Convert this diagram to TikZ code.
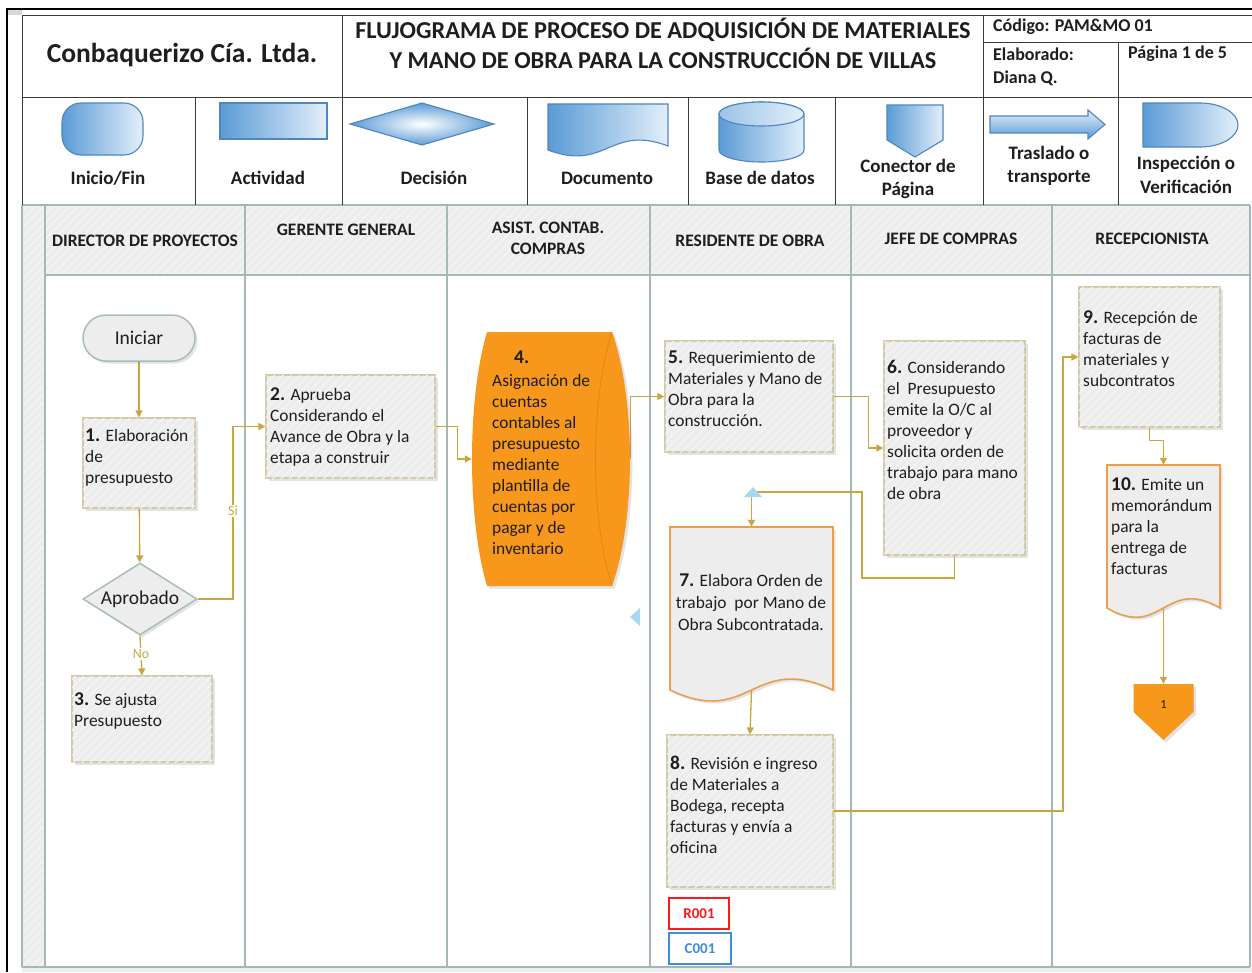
\documentclass[tikz,border=0pt]{standalone}
\usepackage{fontspec}
\setmainfont{Carlito}
\usetikzlibrary{shapes.geometric,shadows,patterns.meta,arrows.meta}
\pgfdeclarelayer{back}
\pgfdeclarelayer{conn}
\pgfsetlayers{back,conn,main}
\definecolor{gold}{HTML}{C8A73E}
\definecolor{boxb}{HTML}{D3CBA8}
\definecolor{boxf}{HTML}{EDEDED}
\definecolor{hatch}{HTML}{F6F6F6}
\definecolor{lane}{HTML}{A4B9B3}
\definecolor{orng}{HTML}{F7981D}
\definecolor{orngd}{HTML}{E0880F}
\definecolor{docb}{HTML}{E8A04E}
\definecolor{pillb}{HTML}{A7BEB7}
\definecolor{iconL}{HTML}{5B9BD5}
\definecolor{iconR}{HTML}{E3EFFA}
\definecolor{iconb}{HTML}{4F86C0}
\definecolor{tri}{HTML}{A9D6F0}
\definecolor{hdr}{HTML}{3A3A3A}
\definecolor{txtc}{HTML}{1E1E1E}
\definecolor{redc}{HTML}{FF1A1A}
\definecolor{bluec}{HTML}{3C8DDB}
\tikzset{
  hatched/.style={fill=boxf, postaction={pattern={Lines[angle=45,distance=6pt,line width=1pt]}, pattern color=hatch}},
  shade box/.style={drop shadow={shadow xshift=2.5pt,shadow yshift=-2.5pt,opacity=0.22}},
  stepbox/.style={rectangle, draw=boxb, line width=1.2pt, hatched, shade box, inner sep=0pt},
  docpath/.style={draw=docb, line width=1.6pt, fill=boxf, shade box},
  anchorbox/.style={rectangle, inner sep=0pt},
  flow/.style={draw=gold, line width=1.3pt, -{Triangle[length=7pt,width=7pt]}},
  steptext/.style={anchor=north west, align=left, inner sep=0pt, text=txtc, font=\fontsize{17.4}{21}\selectfont},
  icon/.style={draw=iconb, line width=1.1pt, left color=iconL, right color=iconR},
  lgd/.style={font=\fontsize{19}{23.5}\selectfont\bfseries, align=center, text=txtc, inner sep=0pt},
  hdrtxt/.style={font=\fontsize{18}{24}\selectfont\bfseries, anchor=west, inner sep=0pt, text=txtc},
  lanehead/.style={font=\fontsize{17.5}{21}\selectfont\bfseries, align=center, text=txtc, inner sep=0pt},
  laneline/.style={draw=lane, line width=1.5pt},
  hdrline/.style={draw=hdr, line width=0.9pt},
  yesno/.style={font=\fontsize{14}{16}\selectfont, text=gold, fill=white, inner sep=1pt},
}
\newcommand{\stepno}[1]{{\fontsize{19.5}{21}\selectfont\bfseries #1}}
\begin{document}
\begin{tikzpicture}[x=1pt,y=-1pt]
\useasboundingbox (0,0) rectangle (1252,972);

% ---------- lane area background ----------
\begin{pgfonlayer}{back}
  \fill[white] (0,0) rectangle (1252,972);
  \fill[hatched] (22,205) rectangle (45,967);
  \fill[hatched] (45,205) rectangle (1250,275);
  \fill[boxf] (22,967) rectangle (1252,972);
  \fill[black!15] (8,10) rectangle (22,15);
  \foreach \x in {22,45,245,447,650,851,1052,1250}
    \draw[laneline] (\x,205) -- (\x,967);
  \draw[laneline] (22,205) -- (1250,205);
  \draw[laneline] (45,275) -- (1250,275);
  \draw[laneline] (22,967) -- (1250,967);
\end{pgfonlayer}

% ---------- title block ----------
\draw[line width=2pt] (7,972) -- (7,9) -- (1252,9);
\draw[hdrline] (1252,15) -- (22,15) -- (22,205);
\draw[hdrline] (22,97) -- (1252,97);
\draw[hdrline] (342,15) -- (342,205);
\draw[hdrline] (983,15) -- (983,205);
\draw[hdrline] (983,42) -- (1252,42);
\draw[hdrline] (1118,42) -- (1118,205);
\foreach \x in {195,527,688,835}
  \draw[hdrline] (\x,97) -- (\x,205);

\node[font=\fontsize{27.5}{30}\selectfont\bfseries, text=txtc] (company) at (182,55) {Conbaquerizo Cía. Ltda.};
\node[font=\fontsize{24.3}{30}\selectfont\bfseries, text=txtc, align=center] (title) at (663,43)
  {FLUJOGRAMA DE PROCESO DE ADQUISICIÓN DE MATERIALES\\Y MANO DE OBRA PARA LA CONSTRUCCIÓN DE VILLAS};
\node[hdrtxt] (code) at (993,27) {Código: PAM\&MO 01};
\node[hdrtxt] (author) at (993,54) {Elaborado:};
\node[hdrtxt] (authorname) at (993,78) {Diana Q.};
\node[hdrtxt] (page) at (1128,54) {Página 1 de 5};

% ---------- symbol legend ----------
\draw[icon, rounded corners=19pt] (62,103) rectangle (143,155);
\node[lgd] (lg1) at (108,178) {Inicio/Fin};
\draw[icon] (220,103) rectangle (327,139);
\node[lgd] (lg2) at (268,178) {Actividad};
\draw[draw=iconb, line width=1.1pt, inner color=white, outer color=iconL]
  (350,124) -- (422,103) -- (494,124) -- (422,145) -- cycle;
\node[lgd] (lg3) at (434,178) {Decisión};
\draw[icon] (548,104) -- (668,104) -- (668,146) .. controls (610,124) and (606,172) .. (548,150) -- cycle;
\node[lgd] (lg4) at (607,178) {Documento};
\draw[icon] (719,114) -- (719,150) arc[start angle=180,end angle=0,x radius=42.5,y radius=12] -- (804,114)
  arc[start angle=0,end angle=-180,x radius=42.5,y radius=12];
\draw[draw=iconb, line width=1.1pt, left color=iconL!60, right color=iconR]
  (761.5,114) ellipse[x radius=42.5,y radius=12];
\node[lgd] (lg5) at (760,178) {Base de datos};
\draw[icon] (887,105) -- (943,105) -- (943,140) -- (915,157) -- (887,140) -- cycle;
\node[lgd] (lg6) at (908,179) {Conector de\\Página};
\draw[draw=iconb, line width=1.1pt, top color=iconR, bottom color=iconL]
  (990,116) -- (1088,116) -- (1088,110) -- (1105,124.5) -- (1088,139) -- (1088,133) -- (990,133) -- cycle;
\node[lgd] (lg7) at (1049,166) {Traslado o\\transporte};
\draw[icon] (1143,103) -- (1200,103) arc[start angle=-90,end angle=90,x radius=38,y radius=22] -- (1143,147) -- cycle;
\node[lgd] (lg8) at (1186,175) {Inspección o\\Verificación};

% ---------- lane titles ----------
\node[lanehead] (ln1) at (145,241) {DIRECTOR DE PROYECTOS};
\node[lanehead] (ln2) at (346,230) {GERENTE GENERAL};
\node[lanehead] (ln3) at (548,238) {ASIST. CONTAB.\\COMPRAS};
\node[lanehead] (ln4) at (750,241) {RESIDENTE DE OBRA};
\node[lanehead] (ln5) at (951,239) {JEFE DE COMPRAS};
\node[lanehead] (ln6) at (1152,239) {RECEPCIONISTA};

% ---------- process steps ----------
\node[rectangle, rounded corners=23pt, draw=pillb, line width=1.5pt, fill=boxf, shade box,
      minimum width=112pt, minimum height=46pt, font=\fontsize{19.5}{22}\selectfont, text=txtc] (ini) at (139,338) {Iniciar};

\node[stepbox, minimum width=112pt, minimum height=90pt] (b1) at (139,463) {};
\node[steptext] (t1) at (85,429) {\stepno{1.} Elaboración\\de\\presupuesto};

\node[diamond, draw=pillb, line width=1.5pt, fill=boxf, shade box, inner sep=0pt,
      minimum width=114pt, minimum height=72pt] (dec) at (140,599) {};
\node[font=\fontsize{19.5}{22}\selectfont, text=txtc] (decl) at (140,599) {Aprobado};

\node[stepbox, minimum width=140pt, minimum height=86pt] (b3) at (142,719) {};
\node[steptext] (t3) at (74,693) {\stepno{3.} Se ajusta\\Presupuesto};

\node[stepbox, minimum width=169pt, minimum height=103pt] (b2) at (350.5,426.5) {};
\node[steptext] (t2) at (270,388) {\stepno{2.} Aprueba\\Considerando el\\Avance de Obra y la\\etapa a construir};

% stored-data drum
\node[anchorbox, minimum width=158pt, minimum height=254pt] (s4) at (551,459) {};
\fill[orng, shade box] (487,332) -- (612,332) .. controls (636,400) and (636,518) .. (612,586)
  -- (487,586) .. controls (467,518) and (467,400) .. (487,332) -- cycle;
\draw[orngd, line width=0.8pt] (612,332) .. controls (590,400) and (590,518) .. (612,586);
\node[steptext, text=txtc] (t4) at (492,351)
  {\hspace*{22pt}\stepno{4.}\\[1.5pt]Asignación de\\cuentas\\contables al\\presupuesto\\mediante\\plantilla de\\cuentas por\\pagar y de\\inventario};

\node[stepbox, minimum width=168pt, minimum height=111pt] (b5) at (749,396.5) {};
\node[steptext] (t5) at (668,351) {\stepno{5.} Requerimiento de\\Materiales y Mano de\\Obra para la\\construcción.};

\node[stepbox, minimum width=141pt, minimum height=214pt] (b6) at (954.5,448) {};
\node[steptext] (t6) at (887,360) {\stepno{6.} Considerando\\el\ \ Presupuesto\\emite la O/C al\\proveedor y\\solicita orden de\\trabajo para mano\\de obra};

% document 7
\node[anchorbox, minimum width=163pt, minimum height=163pt] (d7) at (751.5,608.5) {};
\draw[docpath] (670,527) -- (833,527) -- (833,690) .. controls (753,652) and (750,728) .. (670,690) -- cycle;
\node[anchor=north, align=center, inner sep=0pt, text=txtc, font=\fontsize{17.4}{21.8}\selectfont] (t7) at (751,574)
  {\stepno{7.} Elabora Orden de\\trabajo\ \ por Mano de\\Obra Subcontratada.};

\node[stepbox, minimum width=166pt, minimum height=152pt] (b8) at (750,811) {};
\node[steptext] (t8) at (670,756) {\stepno{8.} Revisión e ingreso\\de Materiales a\\Bodega, recepta\\facturas y envía a\\oficina};

\node[draw=redc, line width=1.8pt, minimum width=60pt, minimum height=31pt, inner sep=0pt,
      text=redc, font=\fontsize{15}{17}\selectfont\bfseries] (r001) at (699,913.5) {R001};
\node[draw=bluec, line width=1.8pt, minimum width=62pt, minimum height=31pt, inner sep=0pt,
      text=bluec, font=\fontsize{15}{17}\selectfont\bfseries] (c001) at (700,948.5) {C001};

\node[stepbox, minimum width=141pt, minimum height=140pt] (b9) at (1149.5,357) {};
\node[steptext] (t9) at (1083,311) {\stepno{9.} Recepción de\\facturas de\\materiales y\\subcontratos};

% document 10
\node[anchorbox, minimum width=113pt, minimum height=143pt] (d10) at (1163.5,536.5) {};
\draw[docpath] (1107,465) -- (1220,465) -- (1220,608) .. controls (1165,576) and (1162,640) .. (1107,608) -- cycle;
\node[steptext] (t10) at (1111,478) {\stepno{10.} Emite un\\memorándum\\para la\\entrega de\\facturas};

% off-page connector
\node[anchorbox, minimum width=60pt, minimum height=56pt] (con1) at (1163.5,712) {};
\fill[orng, shade box] (1133.5,684) -- (1193.5,684) -- (1193.5,712) -- (1163.5,740) -- (1133.5,712) -- cycle;
\node[font=\fontsize{12.5}{14}\selectfont, text=txtc] (con1l) at (1163.5,704) {1};

% small connection glyphs
\fill[tri] (744,497) -- (762,497) -- (753,487) -- cycle;
\fill[tri] (640,608) -- (640,626) -- (630,617) -- cycle;

% ---------- connectors ----------
\coordinate (k1) at (233,426.5);
\coordinate (r1) at (862,578);
\coordinate (r2) at (862,492);
\coordinate (r3) at (1063,357);
\begin{pgfonlayer}{conn}
  \draw[flow] (ini) -- (b1);
  \draw[flow] (b1) -- (dec);
  \draw[flow] (dec.east) -| (k1) -- (b2.west);
  \draw[flow] (dec.south) -- (b3.north);
  \draw[flow] (b2.east) -- ++(22,0) |- (s4.west);
  \draw[flow] (s4.east) |- (b5.west);
  \draw[flow] (b5.east) -- ++(35,0) |- (b6.west);
  \draw[flow] (b6.south) |- (r1) -- (r2) -| (d7.north);
  \draw[flow] (d7.south) -- (b8.north);
  \draw[flow] (b8.east) -| (r3) -- (b9.west);
  \draw[flow] (b9.south) -- ++(0,13) -| (d10.north);
  \draw[flow] (d10.south) -- (con1.north);
\end{pgfonlayer}
\node[yesno] (si) at (233,511) {Si};
\node[yesno] (no) at (141,654) {No};

\end{tikzpicture}
\end{document}
